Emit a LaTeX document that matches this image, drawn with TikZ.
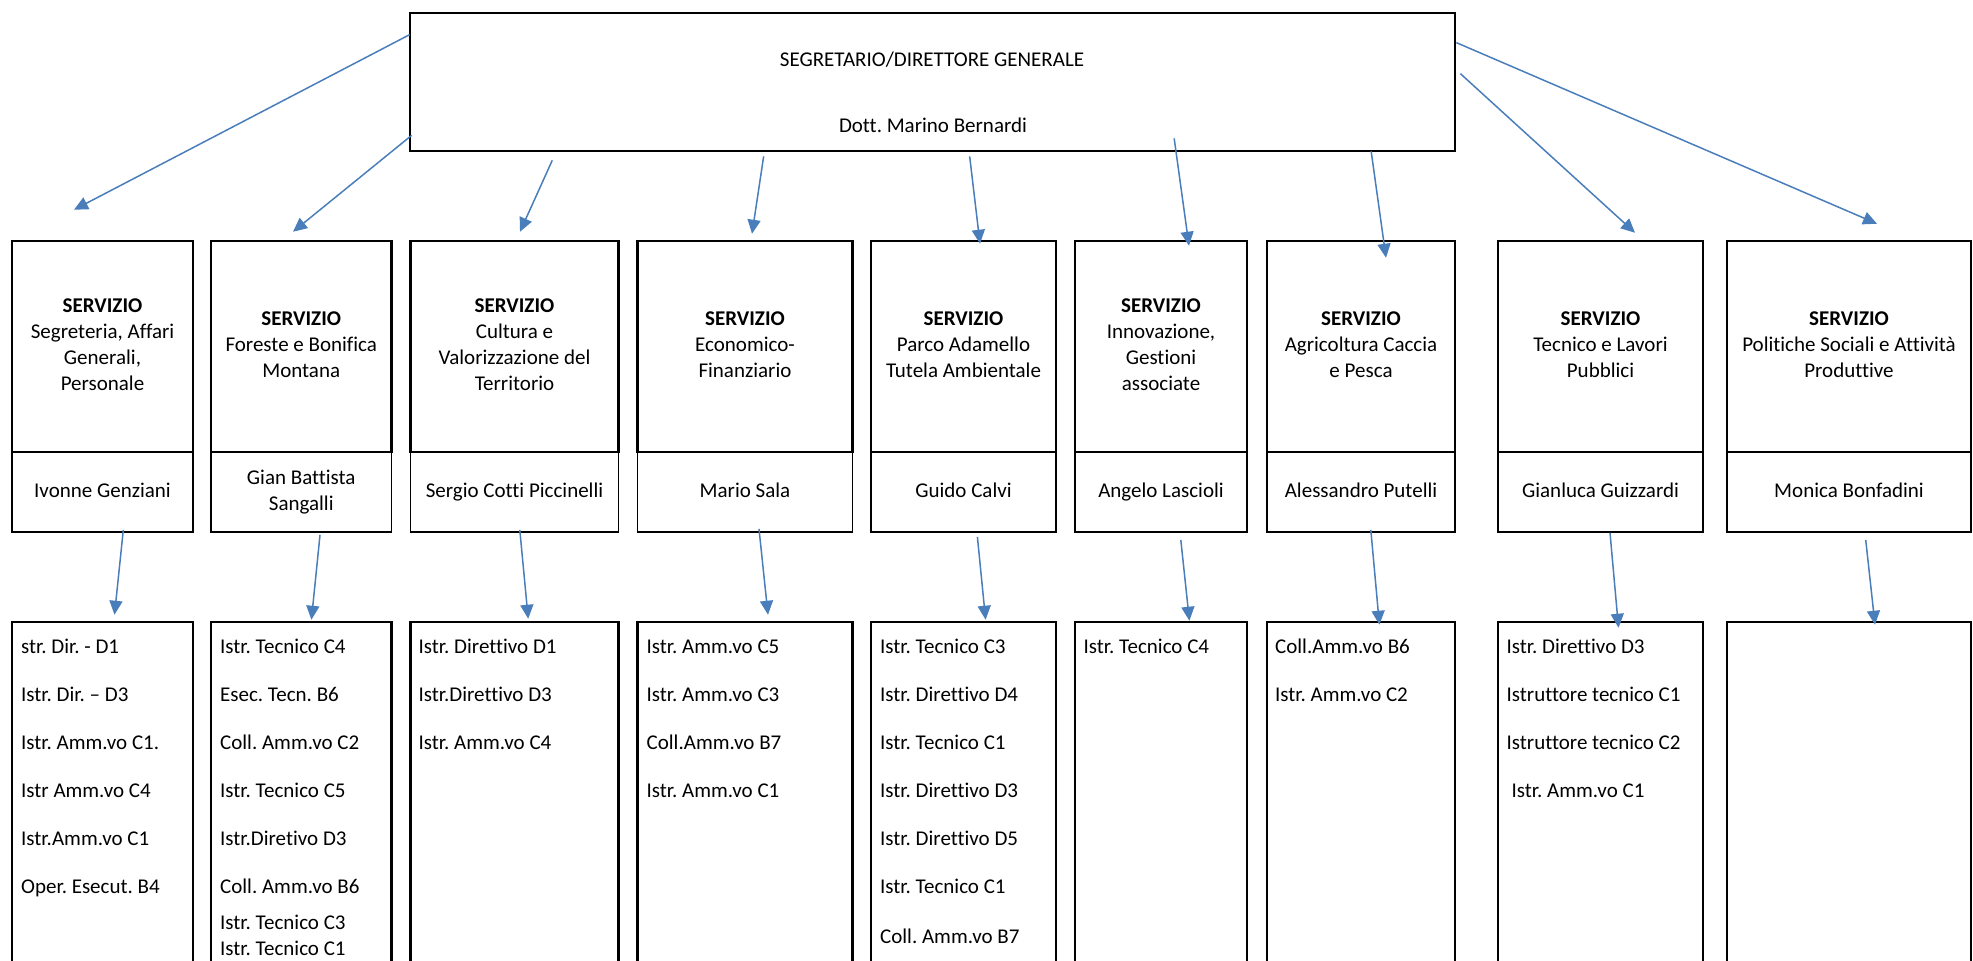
\documentclass[tikz,border=0pt]{standalone}
\usepackage{fontspec}
\setmainfont{Carlito}[Ligatures=NoCommon]
\usetikzlibrary{arrows.meta,calc}
\definecolor{linkblue}{RGB}{74,126,187}
\frenchspacing
\begin{document}
\begin{tikzpicture}[x=0.5pt,y=-0.5pt,
  every node/.append style={font=\fontsize{10.5pt}{13pt}\selectfont},
  topbox/.style={draw, line width=1.35pt, minimum width=522.5pt, minimum height=69pt, inner sep=0pt},
  svc/.style={draw, line width=1.25pt, minimum height=105.5pt, inner sep=0pt, align=center},
  who/.style={draw, line width=0.95pt, minimum height=40pt, inner sep=0pt, align=center},
  staff/.style={draw, line width=1.25pt, minimum height=200pt, inner sep=0pt},
  items/.style={anchor=north west, inner sep=0pt, align=left},
  link/.style={draw=linkblue, line width=0.75pt, -{Triangle[length=7pt,width=6.5pt]}}]
\useasboundingbox (0,0) rectangle (1973,961);
\clip (0,0) rectangle (1973,961);

% top box
\node[topbox] (top) at (932.5,82) {};
\node[anchor=base, inner sep=0pt] (title) at (932,67) {SEGRETARIO/DIRETTORE GENERALE};
\node[anchor=base, inner sep=0pt] (head) at (933,133) {Dott. Marino Bernardi};

% name boxes
\node[who, minimum width=90.5pt]  (n1) at (102.5,492)  {\strut Ivonne Genziani\strut};
\node[who, minimum width=90.25pt] (n2) at (301.25,492) {\strut Gian Battista\\Sangalli\strut};
\node[who, minimum width=104pt]   (n3) at (514.5,492)  {\strut Sergio Cotti Piccinelli\strut};
\node[who, minimum width=107.5pt] (n4) at (745,492)    {\strut Mario Sala\strut};
\node[who, minimum width=92.5pt]  (n5) at (963.5,492)  {\strut Guido Calvi\strut};
\node[who, minimum width=86pt]    (n6) at (1161,492)   {\strut Angelo Lascioli\strut};
\node[who, minimum width=94pt]    (n7) at (1361,492)   {\strut Alessandro Putelli\strut};
\node[who, minimum width=102.5pt] (n8) at (1600.5,492) {\strut Gianluca Guizzardi\strut};
\node[who, minimum width=122pt]   (n9) at (1849,492)   {\strut Monica Bonfadini\strut};

% service boxes
\node[svc, minimum width=90.5pt]  (s1) at (102.5,346.5)  {\strut\textbf{SERVIZIO}\\Segreteria, Affari\\Generali,\\Personale\strut};
\node[svc, minimum width=90.25pt] (s2) at (301.25,346.5) {\strut\textbf{SERVIZIO}\\Foreste e Bonifica\\Montana\strut};
\node[svc, minimum width=104pt]   (s3) at (514.5,346.5)  {\strut\textbf{SERVIZIO}\\Cultura e\\Valorizzazione del\\Territorio\strut};
\node[svc, minimum width=107.5pt] (s4) at (745,346.5)    {\strut\textbf{SERVIZIO}\\Economico-\\Finanziario\strut};
\node[svc, minimum width=92.5pt]  (s5) at (963.5,346.5)  {\strut\textbf{SERVIZIO}\\Parco Adamello\\Tutela Ambientale\strut};
\node[svc, minimum width=86pt]    (s6) at (1161,346.5)   {\strut\textbf{SERVIZIO}\\Innovazione,\\Gestioni\\associate\strut};
\node[svc, minimum width=94pt]    (s7) at (1361,346.5)   {\strut\textbf{SERVIZIO}\\Agricoltura Caccia\\e Pesca\strut};
\node[svc, minimum width=102.5pt] (s8) at (1600.5,346.5) {\strut\textbf{SERVIZIO}\\Tecnico e Lavori\\Pubblici\strut};
\node[svc, minimum width=122pt]   (s9) at (1849,346.5)   {\strut\textbf{SERVIZIO}\\Politiche Sociali e Attività\\Produttive\strut};

% staff boxes
\node[staff, minimum width=90.5pt]  (b1) at (102.5,822)  {};
\node[staff, minimum width=90.25pt] (b2) at (301.25,822) {};
\node[staff, minimum width=104pt]   (b3) at (514.5,822)  {};
\node[staff, minimum width=107.5pt] (b4) at (745,822)    {};
\node[staff, minimum width=92.5pt]  (b5) at (963.5,822)  {};
\node[staff, minimum width=86pt]    (b6) at (1161,822)   {};
\node[staff, minimum width=94pt]    (b7) at (1361,822)   {};
\node[staff, minimum width=102.5pt] (b8) at (1600.5,822) {};
\node[staff, minimum width=122pt]   (b9) at (1849,822)   {};

% staff lists
\node[items] (i1) at ($(b1.north west)+(10,14.5)$) {\strut str. Dir. - D1\\[11pt]Istr. Dir. – D3\\[11pt]Istr. Amm.vo C1.\\[11pt]Istr Amm.vo C4\\[11pt]Istr.Amm.vo C1\\[11pt]Oper. Esecut. B4};
\node[items] (i2) at ($(b2.north west)+(10,14.5)$) {\strut Istr. Tecnico C4\\[11pt]Esec. Tecn. B6\\[11pt]Coll. Amm.vo C2\\[11pt]Istr. Tecnico C5\\[11pt]Istr.Diretivo D3\\[11pt]Coll. Amm.vo B6\\[5pt]Istr. Tecnico C3\\Istr. Tecnico C1};
\node[items] (i3) at ($(b3.north west)+(9,14.5)$) {\strut Istr. Direttivo D1\\[11pt]Istr.Direttivo D3\\[11pt]Istr. Amm.vo C4};
\node[items] (i4) at ($(b4.north west)+(10,14.5)$) {\strut Istr. Amm.vo C5\\[11pt]Istr. Amm.vo C3\\[11pt]Coll.Amm.vo B7\\[11pt]Istr. Amm.vo C1};
\node[items] (i5) at ($(b5.north west)+(10,14.5)$) {\strut Istr. Tecnico C3\\[11pt]Istr. Direttivo D4\\[11pt]Istr. Tecnico C1\\[11pt]Istr. Direttivo D3\\[11pt]Istr. Direttivo D5\\[11pt]Istr. Tecnico C1\\[12pt]Coll. Amm.vo B7};
\node[items] (i6) at ($(b6.north west)+(9.5,14.5)$) {\strut Istr. Tecnico C4};
\node[items] (i7) at ($(b7.north west)+(9,14.5)$) {\strut Coll.Amm.vo B6\\[11pt]Istr. Amm.vo C2};
\node[items] (i8) at ($(b8.north west)+(9.5,14.5)$) {\strut Istr. Direttivo D3\\[11pt]Istruttore tecnico C1\\[11pt]Istruttore tecnico C2\\[11pt]\hspace{2.5pt}Istr. Amm.vo C1};

% arrows from the top box
\draw[link] ($(top.north west)+(1,23)$)     -- ($(s1.north)+(-28.5,-30)$);
\draw[link] ($(top.south west)+(3,-17)$)    -- ($(s2.north)+(-8.25,-8)$);
\draw[link] ($(top.south west)+(143.6,8)$)  -- ($(s3.north)+(5.5,-8)$);
\draw[link] ($(top.south west)+(355,4)$)    -- ($(s4.north)+(7,-6)$);
\draw[link] ($(top.south west)+(561,4)$)    -- ($(s5.north)+(16.5,4)$);
\draw[link] ($(top.south west)+(765.5,-14)$) -- ($(s6.north)+(28,6)$);
\draw[link] ($(top.south west)+(962.5,-1)$) -- ($(s7.north)+(25,18)$);
\draw[link] ($(top.north east)+(4,62)$)     -- ($(s8.north)+(34.5,-7)$);
\draw[link] ($(top.north east)+(0,31)$)     -- ($(s9.north)+(28,-16)$);

% arrows from the names
\draw[link] ($(n1.south)+(20.8,-3)$) -- ($(b1.north)+(12,-6)$);
\draw[link] ($(n2.south)+(18.75,2)$) -- ($(b2.north)+(10.15,-1)$);
\draw[link] ($(n3.south)+(5.3,-3)$)  -- ($(b3.north)+(13.7,-2)$);
\draw[link] ($(n4.south)+(14,-4)$)   -- ($(b4.north)+(23,-6)$);
\draw[link] ($(n5.south)+(13.9,4)$)  -- ($(b5.north)+(22.1,-1)$);
\draw[link] ($(n6.south)+(19.8,7)$)  -- ($(b6.north)+(28.4,0)$);
\draw[link] ($(n7.south)+(9.8,-3)$)  -- ($(b7.north)+(18.4,4)$);
\draw[link] ($(n8.south)+(9.5,0)$)   -- ($(b8.north)+(18,7)$);
\draw[link] ($(n9.south)+(16.7,7)$)  -- ($(b9.north)+(26,4)$);
\end{tikzpicture}
\end{document}
